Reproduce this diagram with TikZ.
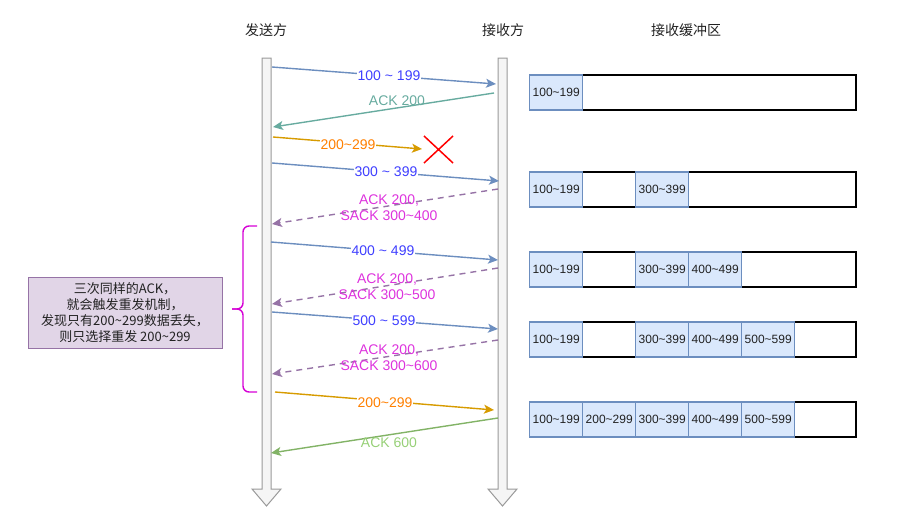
\documentclass[tikz,border=0pt]{standalone}
\usepackage{fontspec}
\setmainfont{Liberation Sans}
\newfontfamily\cjk{Noto Sans CJK SC}
\usetikzlibrary{arrows.meta}
\definecolor{blueline}{HTML}{6C8EBF}
\definecolor{bluetext}{HTML}{3F3FFF}
\definecolor{tealline}{HTML}{67AB9F}
\definecolor{orangeline}{HTML}{D79B00}
\definecolor{orangetext}{HTML}{FF8000}
\definecolor{purpleline}{HTML}{9673A6}
\definecolor{magtext}{HTML}{DD33DD}
\definecolor{greenline}{HTML}{82B366}
\definecolor{greentext}{HTML}{97D077}
\definecolor{cellfill}{HTML}{DAE8FC}
\definecolor{boxfill}{HTML}{E1D5E7}
\definecolor{bracecol}{HTML}{D500D5}
\definecolor{lifefill}{HTML}{F5F5F5}
\definecolor{lifedraw}{HTML}{9A9A9A}
\definecolor{txt}{HTML}{222222}
\begin{document}
\begin{tikzpicture}[x=1pt,y=-1pt,
  msg/.style={line width=1.4pt,-{Stealth[length=10pt,width=9pt,inset=2.5pt]}},
  lbl/.style={font=\fontsize{14}{16}\selectfont,inner sep=1pt},
  lblbg/.style={lbl,fill=white},
  title/.style={font=\cjk\fontsize{14}{16}\selectfont,text=txt},
  outerbuf/.style={draw=black,line width=1.6pt,minimum width=326pt,minimum height=35pt,inner sep=0pt,anchor=west},
  cell/.style={draw=blueline,fill=cellfill,line width=1.4pt,minimum width=53pt,minimum height=35pt,inner sep=0pt,anchor=west,font=\fontsize{12}{14}\selectfont,text=txt},
  lifeline/.style={fill=lifefill,draw=lifedraw,line width=1pt}
]
\useasboundingbox (0,0) rectangle (904,522);

% titles
\node[title] (t1) at (266,30) {发送方};
\node[title] (t2) at (503,30) {接收方};
\node[title] (t3) at (686,30) {接收缓冲区};

% lifelines
\draw[lifeline] (262,58) -- (271,58) -- (271,489) -- (281,489) -- (266.5,506) -- (252,489) -- (262,489) -- cycle;
\draw[lifeline] (498,58) -- (507,58) -- (507,489) -- (517,489) -- (502.5,506) -- (488,489) -- (498,489) -- cycle;

% endpoints
\coordinate (s1) at (272,67);  \coordinate (r1) at (496,84);
\coordinate (r2) at (494,93);  \coordinate (s2) at (273,127);
\coordinate (s3) at (273,137); \coordinate (x3) at (422,149);
\coordinate (s4) at (272,163); \coordinate (r4) at (499,181);
\coordinate (r5) at (498,189); \coordinate (s5) at (272,224);
\coordinate (s6) at (271,242); \coordinate (r6) at (498,260);
\coordinate (r7) at (498,268); \coordinate (s7) at (272,304);
\coordinate (s8) at (272,312); \coordinate (r8) at (498,329);
\coordinate (r9) at (498,340); \coordinate (s9) at (272,374);
\coordinate (s10) at (275,392); \coordinate (r10) at (494,410);
\coordinate (r11) at (498,418); \coordinate (s11) at (271,453);

% messages
\draw[msg,blueline] (s1) -- (r1);
\node[lblbg,text=bluetext] (l1) at (389,76) {100 \char`~\ 199};

\draw[msg,tealline] (r2) -- (s2);
\node[lbl,text=tealline] (l2) at (397,101) {ACK 200};

\draw[msg,orangeline] (s3) -- (x3);
\node[lblbg,text=orangetext] (l3) at (348,145) {200\char`~299};

\node[draw=none,minimum size=1pt] (xm) at (438.5,149.5) {};
\draw[red,line width=1.5pt] (424,136) -- (453,163) (453,136) -- (424,163);

\draw[msg,blueline] (s4) -- (r4);
\node[lblbg,text=bluetext] (l4) at (386,172) {300 \char`~\ 399};

\draw[msg,purpleline,dashed,dash pattern=on 6pt off 5pt] (r5) -- (s5);
\node[lbl,text=magtext,align=center] (l5) at (389,208) {ACK 200,\\SACK 300\char`~400};

\draw[msg,blueline] (s6) -- (r6);
\node[lblbg,text=bluetext] (l6) at (383,251) {400 \char`~\ 499};

\draw[msg,purpleline,dashed,dash pattern=on 6pt off 5pt] (r7) -- (s7);
\node[lbl,text=magtext,align=center] (l7) at (387,287) {ACK 200,\\SACK 300\char`~500};

\draw[msg,blueline] (s8) -- (r8);
\node[lblbg,text=bluetext] (l8) at (384,321) {500 \char`~\ 599};

\draw[msg,purpleline,dashed,dash pattern=on 6pt off 5pt] (r9) -- (s9);
\node[lbl,text=magtext,align=center] (l9) at (389,357.5) {ACK 200,\\SACK 300\char`~600};

\draw[msg,orangeline] (s10) -- (r10);
\node[lblbg,text=orangetext] (l10) at (385,403) {200\char`~299};

\draw[msg,greenline] (r11) -- (s11);
\node[lbl,text=greentext] (l11) at (389,443) {ACK 600};

% brace
\draw[bracecol,line width=1.4pt,rounded corners=6pt] (257,226) -- (243,226) -- (243,309) -- (232,309);
\draw[bracecol,line width=1.4pt,rounded corners=6pt] (232,309) -- (243,309) -- (243,392) -- (257,392);

% note box
\node[draw=purpleline,fill=boxfill,line width=1pt,minimum width=194pt,minimum height=71pt,align=center,
  font=\cjk\fontsize{13}{16}\selectfont,text=txt] (note) at (125,312.5)
  {三次同样的ACK，\\就会触发重发机制，\\发现只有200\char`~299数据丢失，\\则只选择重发 200\char`~299};

% buffers
\node[outerbuf] (b1) at (529,92.5) {};
\node[cell] (b1c0) at (529,92.5) {100\char`~199};

\node[outerbuf] (b2) at (529,189.5) {};
\node[cell] (b2c0) at (529,189.5) {100\char`~199};
\node[cell] (b2c2) at (635,189.5) {300\char`~399};

\node[outerbuf] (b3) at (529,269.5) {};
\node[cell] (b3c0) at (529,269.5) {100\char`~199};
\node[cell] (b3c2) at (635,269.5) {300\char`~399};
\node[cell] (b3c3) at (688,269.5) {400\char`~499};

\node[outerbuf] (b4) at (529,339.5) {};
\node[cell] (b4c0) at (529,339.5) {100\char`~199};
\node[cell] (b4c2) at (635,339.5) {300\char`~399};
\node[cell] (b4c3) at (688,339.5) {400\char`~499};
\node[cell] (b4c4) at (741,339.5) {500\char`~599};

\node[outerbuf] (b5) at (529,419.5) {};
\node[cell] (b5c0) at (529,419.5) {100\char`~199};
\node[cell] (b5c1) at (582,419.5) {200\char`~299};
\node[cell] (b5c2) at (635,419.5) {300\char`~399};
\node[cell] (b5c3) at (688,419.5) {400\char`~499};
\node[cell] (b5c4) at (741,419.5) {500\char`~599};
\end{tikzpicture}
\end{document}
